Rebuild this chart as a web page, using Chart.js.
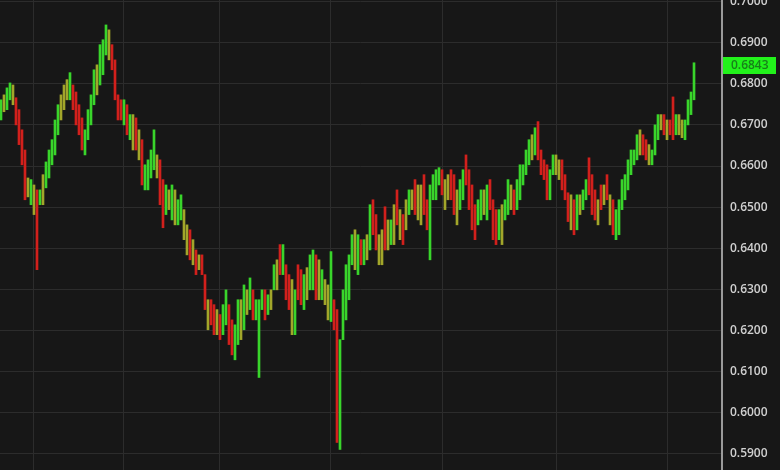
<!DOCTYPE html>
<html><head><meta charset="utf-8">
<script src="https://cdn.jsdelivr.net/npm/chart.js@4.4.1/dist/chart.umd.min.js"></script>
<style>html,body{margin:0;padding:0;background:#171717;overflow:hidden}#wrap{width:780px;height:470px;position:relative}</style>
</head><body><div id="wrap"><canvas id="c" width="780" height="470"></canvas></div>
<script>
// ---- data ----
const yTickValues = [0.59,0.60,0.61,0.62,0.63,0.64,0.65,0.66,0.67,0.68,0.69,0.70];
const periodStarts = [11,41,73,110,147,185,222];
const lastPrice = 0.6843;
const highs = [
.6761,.6773,.6790,.6802,.6797,.6766,.6737,.6688,.6639,.6571,
.6567,.6554,.6542,.6542,.6579,.6610,.6639,.6664,.6712,.6749,
.6773,.6797,.6810,.6827,.6797,.6780,.6749,.6717,.6688,.6737,
.6773,.6834,.6846,.6895,.6907,.6943,.6931,.6895,.6858,.6773,
.6761,.6761,.6749,.6725,.6725,.6717,.6688,.6664,.6603,.6615,
.6639,.6688,.6627,.6615,.6567,.6554,.6542,.6554,.6542,.6518,
.6530,.6494,.6457,.6445,.6421,.6396,.6384,.6384,.6336,.6275,
.6275,.6263,.6251,.6239,.6263,.6299,.6263,.6226,.6214,.6275,
.6275,.6311,.6299,.6328,.6299,.6275,.6275,.6299,.6299,.6287,
.6299,.6360,.6372,.6409,.6409,.6360,.6336,.6324,.6299,.6360,
.6348,.6336,.6353,.6384,.6396,.6384,.6372,.6348,.6324,.6311,
.6392,.6275,.6251,.6178,.6299,.6360,.6384,.6433,.6445,.6433,
.6421,.6421,.6433,.6506,.6518,.6482,.6433,.6445,.6501,.6469,
.6469,.6506,.6542,.6494,.6482,.6518,.6542,.6542,.6567,.6554,
.6554,.6579,.6518,.6554,.6579,.6591,.6596,.6591,.6567,.6579,
.6591,.6579,.6542,.6567,.6591,.6627,.6591,.6554,.6506,.6518,
.6542,.6542,.6554,.6567,.6518,.6494,.6494,.6506,.6518,.6567,
.6554,.6542,.6567,.6603,.6603,.6639,.6664,.6676,.6693,.6708,
.6639,.6615,.6603,.6591,.6627,.6627,.6615,.6615,.6579,.6535,
.6530,.6518,.6530,.6530,.6542,.6567,.6620,.6579,.6542,.6518,
.6554,.6554,.6579,.6530,.6518,.6494,.6518,.6567,.6579,.6615,
.6639,.6639,.6676,.6688,.6676,.6664,.6652,.6639,.6700,.6725,
.6725,.6725,.6712,.6712,.6768,.6725,.6725,.6712,.6712,.6761,
.6780,.6851];
const lows = [
.6712,.6732,.6737,.6761,.6749,.6700,.6652,.6603,.6518,.6525,
.6506,.6482,.6348,.6506,.6506,.6547,.6571,.6603,.6627,.6676,
.6712,.6737,.6761,.6761,.6737,.6700,.6676,.6639,.6627,.6664,
.6700,.6749,.6773,.6797,.6822,.6870,.6858,.6834,.6761,.6712,
.6712,.6700,.6676,.6664,.6639,.6639,.6615,.6554,.6542,.6542,
.6571,.6591,.6571,.6506,.6450,.6482,.6494,.6469,.6457,.6457,
.6469,.6421,.6384,.6372,.6360,.6336,.6348,.6336,.6251,.6202,
.6214,.6190,.6190,.6178,.6190,.6214,.6166,.6141,.6129,.6166,
.6178,.6202,.6239,.6251,.6226,.6226,.6086,.6251,.6226,.6239,
.6251,.6299,.6299,.6336,.6336,.6275,.6251,.6190,.6190,.6275,
.6263,.6251,.6275,.6299,.6299,.6275,.6275,.6275,.6263,.6226,
.6222,.6202,.5928,.5911,.6178,.6226,.6275,.6360,.6348,.6336,
.6360,.6360,.6372,.6396,.6433,.6396,.6360,.6360,.6396,.6396,
.6409,.6409,.6457,.6421,.6409,.6445,.6482,.6494,.6482,.6469,
.6457,.6482,.6445,.6372,.6518,.6518,.6554,.6530,.6494,.6518,
.6518,.6482,.6457,.6494,.6518,.6554,.6494,.6445,.6421,.6457,
.6469,.6482,.6469,.6494,.6421,.6409,.6421,.6409,.6469,.6482,
.6494,.6482,.6494,.6518,.6554,.6579,.6603,.6615,.6627,.6615,
.6579,.6567,.6518,.6518,.6579,.6579,.6567,.6542,.6518,.6465,
.6445,.6433,.6445,.6482,.6494,.6518,.6530,.6482,.6469,.6457,
.6494,.6506,.6518,.6457,.6433,.6421,.6433,.6494,.6518,.6542,
.6579,.6603,.6615,.6627,.6627,.6615,.6603,.6603,.6627,.6664,
.6688,.6676,.6664,.6676,.6664,.6676,.6676,.6669,.6664,.6700,
.6725,.6761];
// 1 = up day, -1 = down day, 0 = small body
const moves = [
 1, 0, 1, 1, 0,-1,-1,-1,-1, 0,
 1, 0,-1, 1, 0, 1, 1, 1, 1, 1,
 0, 0, 0, 1,-1,-1,-1,-1, 1, 1,
 1, 1, 0, 1, 1, 1, 0,-1,-1,-1,
-1, 1,-1, 1, 0,-1, 0,-1, 1, 1,
 1, 1, 0,-1,-1, 1, 0, 1, 0, 1,
 1, 0, 0,-1, 0,-1, 0,-1,-1, 0,
-1,-1, 0,-1, 1, 1,-1,-1, 1, 1,
 0, 1, 0, 1,-1, 1, 1, 1,-1, 1,
 0, 1, 0,-1, 1,-1,-1, 0, 1,-1,
-1, 1, 0, 1, 1,-1, 0, 1, 0, 0,
 1,-1,-1, 1, 1, 1, 1, 1, 0, 1,
-1, 1, 0, 1,-1,-1, 0, 0,-1, 0,
 1, 0,-1, 0,-1, 0, 1, 0,-1, 0,
 0,-1,-1, 1, 1, 1, 1,-1, 0, 0,
-1,-1, 0, 1, 1,-1,-1,-1,-1, 1,
 1, 0, 1,-1,-1,-1, 1, 0, 1, 1,
 0,-1, 1, 1, 1, 1, 1, 0, 1,-1,
-1,-1,-1, 1, 1, 0, 0,-1,-1,-1,
 0,-1, 1, 0, 1, 1,-1,-1,-1, 0,
-1, 0,-1, 0,-1, 1, 1, 1, 1, 1,
 1, 1, 1, 0,-1,-1, 0, 1, 1, 1,
 0,-1, 0,-1,-1, 1, 0, 0, 1, 1,
 1, 1];

// ---- styles ----
const UP = '#39d52b', DOWN = '#d2201c', FLAT = '#a2a62a';
const barData = highs.map((h, i) => ({x: i, y: [lows[i], h]}));
const barColors = moves.map(m => m > 0 ? UP : (m < 0 ? DOWN : FLAT));

const bgPlugin = {
  id: 'bg',
  beforeDraw(chart) {
    const ctx = chart.ctx;
    ctx.save();
    ctx.fillStyle = '#171717';
    ctx.fillRect(0, 0, chart.width, chart.height);
    ctx.restore();
  }
};
const priceTag = {
  id: 'priceTag',
  afterDraw(chart) {
    const ys = chart.scales.y;
    const ctx = chart.ctx;
    const y = Math.round(ys.getPixelForValue(lastPrice));
    const left = chart.chartArea.right + 1;
    ctx.save();
    ctx.fillStyle = '#22f21b';
    ctx.fillRect(left, y - 9, 53, 17);
    ctx.fillStyle = '#18801a';
    ctx.font = '600 12px "Open Sans", sans-serif';
    ctx.textAlign = 'left';
    ctx.textBaseline = 'middle';
    ctx.fillText(lastPrice.toFixed(4), left + 8, y);
    ctx.restore();
  }
};

new Chart(document.getElementById('c'), {
  type: 'bar',
  data: {
    datasets: [{
      data: barData,
      backgroundColor: barColors,
      borderWidth: 0,
      barThickness: 2,
      grouped: false
    }]
  },
  options: {
    responsive: false,
    animation: false,
    events: [],
    layout: {padding: 0},
    plugins: {legend: {display: false}, tooltip: {enabled: false}},
    scales: {
      x: {
        type: 'linear',
        offset: false,
        min: -0.33,
        max: 240.33,
        afterBuildTicks: s => { s.ticks = periodStarts.map(v => ({value: v})); },
        ticks: {display: false},
        grid: {color: '#2c2c2c', lineWidth: 1, drawTicks: false, offset: false},
        border: {display: false},
        afterFit: s => { s.height = 0; }
      },
      y: {
        position: 'right',
        min: 0.58611,
        max: 0.70036,
        afterBuildTicks: s => { s.ticks = yTickValues.map(v => ({value: v})); },
        ticks: {
          color: '#d0d0d0',
          font: {family: '"Open Sans", sans-serif', size: 12, weight: '600'},
          padding: 8,
          callback: v => Number(v).toFixed(4)
        },
        grid: {color: '#2c2c2c', lineWidth: 1, drawTicks: false},
        border: {display: true, color: '#9a9a9a', width: 2},
        afterFit: s => { s.width = 58; s.paddingTop = 0; s.paddingBottom = 0; }
      }
    }
  },
  plugins: [bgPlugin, priceTag]
});
</script>
</body></html>
